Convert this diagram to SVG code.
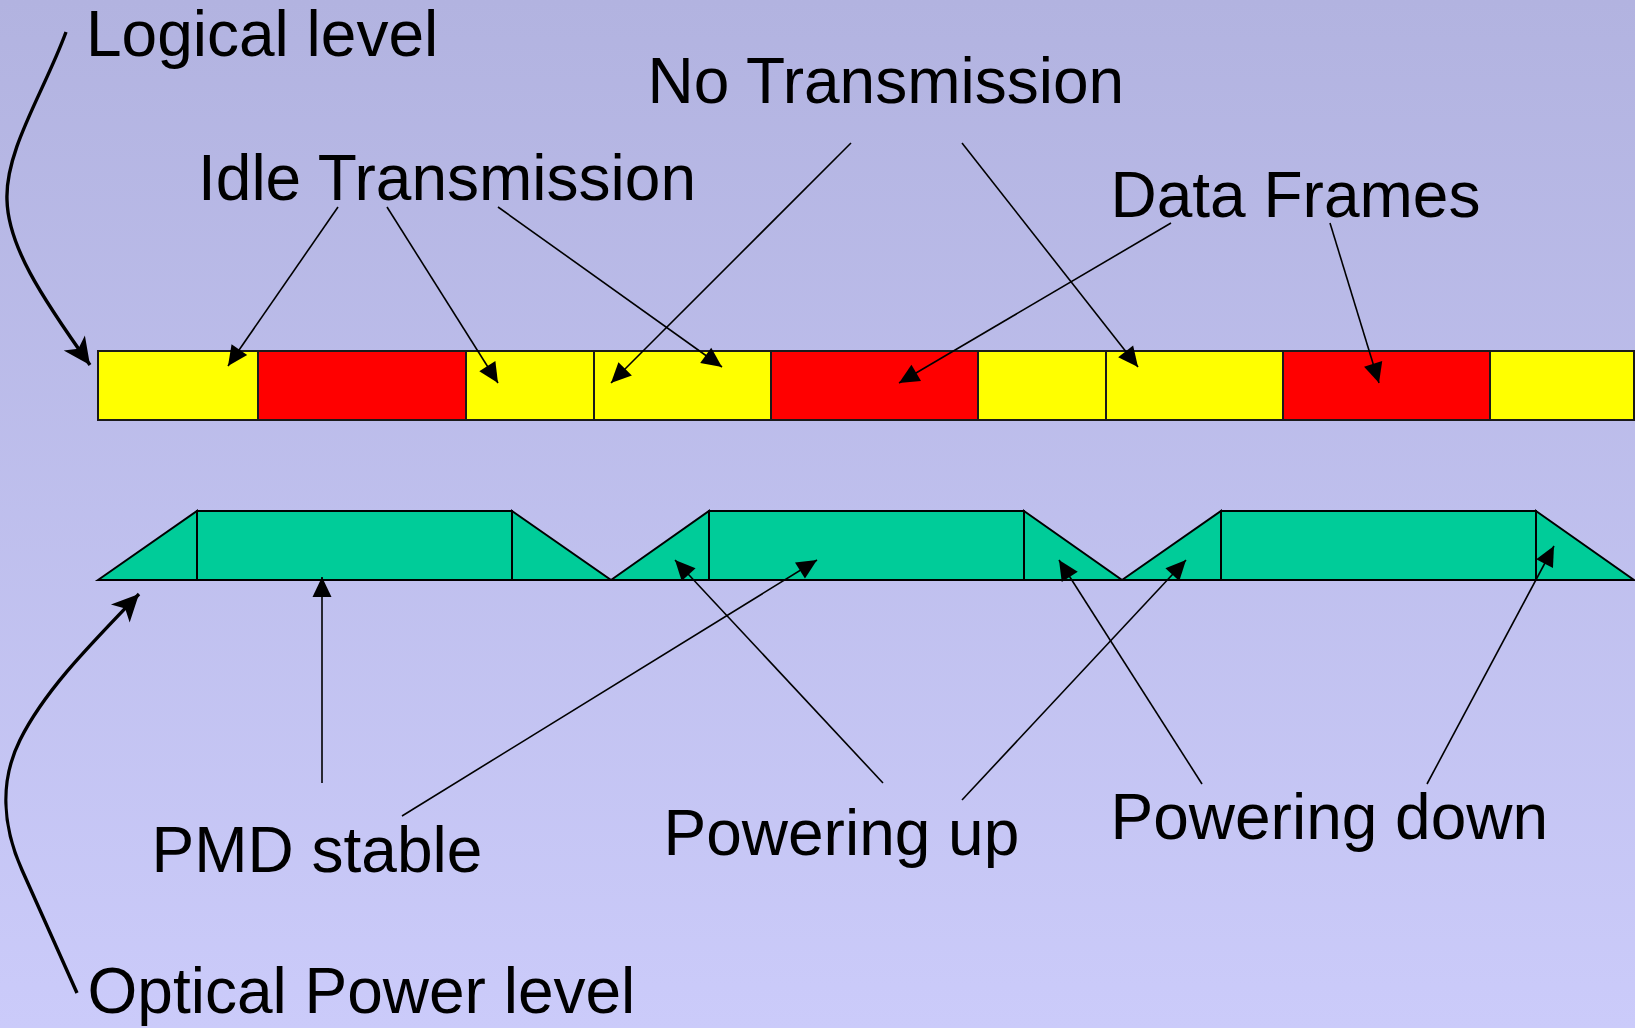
<svg xmlns="http://www.w3.org/2000/svg" width="1635" height="1028" viewBox="0 0 1635 1028">
<style>
.lbl{font-family:"Liberation Sans",Arial,sans-serif;font-size:64px;fill:#000}
.y{fill:#FFFF00;stroke:#1a1a1a;stroke-width:2}
.r{fill:#FF0000;stroke:#1a1a1a;stroke-width:2}
.g{fill:#00CC99;stroke:#000;stroke-width:2;stroke-linejoin:miter}
.thin{fill:none;stroke:#000;stroke-width:1.6;marker-end:url(#ah)}
.thick{fill:none;stroke:#000;stroke-width:3.4;marker-end:url(#ahb)}
</style>
<defs>
<linearGradient id="bg" x1="0" y1="0" x2="0" y2="1">
<stop offset="0" stop-color="#B2B3E0"/>
<stop offset="1" stop-color="#CBCBFA"/>
</linearGradient>
<marker id="ah" markerUnits="userSpaceOnUse" markerWidth="24" markerHeight="24" viewBox="-22 -12 24 24" refX="0" refY="0" orient="auto">
<path d="M0,0 L-20,-9.5 L-20,9.5 Z" fill="#000"/>
</marker>
<marker id="ahb" markerUnits="userSpaceOnUse" markerWidth="32" markerHeight="32" viewBox="-29 -16 32 32" refX="0" refY="0" orient="auto">
<path d="M0,0 L-27,-13 L-20,0 L-27,13 Z" fill="#000"/>
</marker>
</defs>
<rect width="1635" height="1028" fill="url(#bg)"/>

<g id="logical-bar">
<rect class="y" x="98" y="351" width="160" height="69"/>
<rect class="r" x="258" y="351" width="208" height="69"/>
<rect class="y" x="466" y="351" width="128" height="69"/>
<rect class="y" x="594" y="351" width="177" height="69"/>
<rect class="r" x="771" y="351" width="207" height="69"/>
<rect class="y" x="978" y="351" width="128" height="69"/>
<rect class="y" x="1106" y="351" width="177" height="69"/>
<rect class="r" x="1283" y="351" width="207" height="69"/>
<rect class="y" x="1490" y="351" width="144" height="69"/>
</g>

<g id="power-pulse-1">
<polygon class="g" points="98,580 197,511 197,580"/>
<rect class="g" x="197" y="511" width="315" height="69"/>
<polygon class="g" points="512,511 611,580 512,580"/>
</g>
<g id="power-pulse-2">
<polygon class="g" points="611,580 709,511 709,580"/>
<rect class="g" x="709" y="511" width="315" height="69"/>
<polygon class="g" points="1024,511 1122,580 1024,580"/>
</g>
<g id="power-pulse-3">
<polygon class="g" points="1122,580 1221,511 1221,580"/>
<rect class="g" x="1221" y="511" width="315" height="69"/>
<polygon class="g" points="1536,511 1634,580 1536,580"/>
</g>

<g id="connectors">
<path class="thick" d="M66,32 C44,92 5,150 7,200 C8,245 40,295 90,365"/>
<path class="thick" d="M77,993 L22,870 C2,825 0,780 20,740 C45,690 90,645 139,594"/>
<line class="thin" x1="338" y1="207" x2="228" y2="366"/>
<line class="thin" x1="387" y1="207" x2="498" y2="383"/>
<line class="thin" x1="498" y1="207" x2="722" y2="367"/>
<line class="thin" x1="851" y1="143" x2="611" y2="383"/>
<line class="thin" x1="962" y1="143" x2="1138" y2="367"/>
<line class="thin" x1="1171" y1="223" x2="899" y2="383"/>
<line class="thin" x1="1330" y1="223" x2="1379" y2="383"/>
<line class="thin" x1="322" y1="783" x2="322" y2="577"/>
<line class="thin" x1="402" y1="816" x2="817" y2="560"/>
<line class="thin" x1="883" y1="783" x2="675" y2="560"/>
<line class="thin" x1="962" y1="800" x2="1186" y2="560"/>
<line class="thin" x1="1202" y1="784" x2="1059" y2="560"/>
<line class="thin" x1="1427" y1="784" x2="1554" y2="546"/>
</g>

<g id="label-logical-level"><text class="lbl" x="86" y="56">Logical level</text></g>
<g id="label-idle"><text class="lbl" x="198" y="200">Idle Transmission</text></g>
<g id="label-no-transmission"><text class="lbl" x="647.5" y="103">No Transmission</text></g>
<g id="label-data-frames"><text class="lbl" x="1110.5" y="217">Data Frames</text></g>
<g id="label-pmd-stable"><text class="lbl" x="151.5" y="872">PMD stable</text></g>
<g id="label-powering-up"><text class="lbl" x="663.5" y="855">Powering up</text></g>
<g id="label-powering-down"><text class="lbl" x="1110.5" y="839">Powering down</text></g>
<g id="label-optical"><text class="lbl" x="87.5" y="1013">Optical Power level</text></g>
</svg>
